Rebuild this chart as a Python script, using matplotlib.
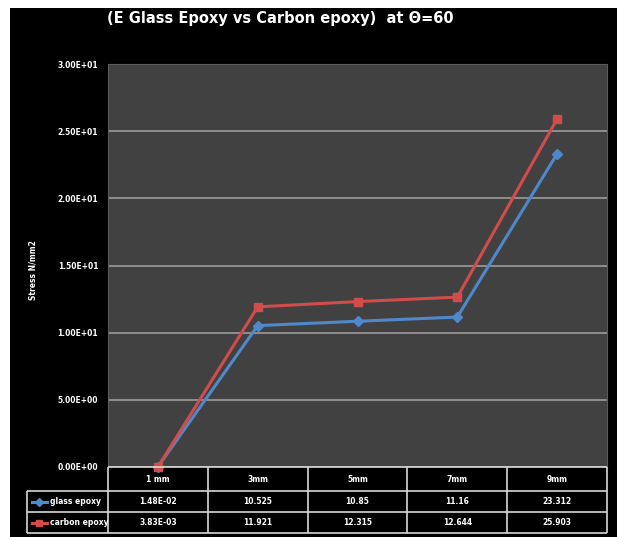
import matplotlib
matplotlib.use("Agg")
import matplotlib.pyplot as plt
from matplotlib.patches import Rectangle
from matplotlib import font_manager

# data
categories = ["1 mm", "3mm", "5mm", "7mm", "9mm"]
glass_epoxy = [1.48e-02, 10.525, 10.85, 11.16, 23.312]
carbon_epoxy = [3.83e-03, 11.921, 12.315, 12.644, 25.903]
glass_labels = ["1.48E-02", "10.525", "10.85", "11.16", "23.312"]
carbon_labels = ["3.83E-03", "11.921", "12.315", "12.644", "25.903"]
series_names = ["glass epoxy", "carbon epoxy"]
yticks = [0, 5, 10, 15, 20, 25, 30]
ytick_labels = ["0.00E+00", "5.00E+00", "1.00E+01", "1.50E+01", "2.00E+01", "2.50E+01", "3.00E+01"]

installed = {f.name for f in font_manager.fontManager.ttflist}
fams = [f for f in ['Liberation Sans Narrow', 'DejaVu Sans Condensed', 'DejaVu Sans'] if f in installed]
plt.rcParams['font.family'] = fams

W, H = 617, 537
fig = plt.figure(figsize=(W / 100, H / 100), dpi=100, facecolor="white")

# black chart background with white margin at top/left
fig.patches.append(Rectangle((10 / W, 0), 1, (H - 8) / H, transform=fig.transFigure,
                             facecolor="black", edgecolor="none", zorder=-5))

blue = "#5088cc"
red = "#d24c4c"

# main plot area
ax = fig.add_axes([108 / W, (H - 467) / H, (607 - 108) / W, (467 - 64) / H])
ax.set_facecolor("#414141")
x = list(range(len(categories)))
ax.plot(x, glass_epoxy, color=blue, lw=2.2, marker="D", ms=5, mec=blue, mfc=blue, clip_on=False)
ax.plot(x, carbon_epoxy, color=red, lw=2.2, marker="s", ms=6, mec=red, mfc=red, clip_on=False)
ax.set_xlim(-0.5, len(categories) - 0.5)
ax.set_ylim(0, 30)
ax.set_yticks(yticks)
ax.set_yticklabels(ytick_labels, color="white", fontsize=5.5, fontweight="bold")
ax.tick_params(axis="y", length=0, pad=7)
ax.set_xticks([])
ax.grid(axis="y", color="#9c9c9c", lw=1.2)
ax.set_axisbelow(True)
for s in ax.spines.values():
    s.set_color("#5a5a5a")
ax.spines["bottom"].set_visible(False)

fig.text(33 / W, 1 - 270 / H, "Stress N/mm2", color="white", fontsize=5.5,
         fontweight="bold", rotation=90, ha="center", va="center")

fig.text(280 / W, 1 - 18 / H, "(E Glass Epoxy vs Carbon epoxy)  at \u0398=60",
         color="white", fontsize=10.5, fontweight="bold", ha="center", va="center")

# data table under the plot, columns aligned with the categories
left_px, right_px = 27, 607
unit = (607 - 108) / len(categories)
x0 = -0.5 - (108 - left_px) / unit
tax = fig.add_axes([left_px / W, (H - 533) / H, (right_px - left_px) / W, (533 - 467) / H])
tax.set_xlim(x0, len(categories) - 0.5)
tax.set_ylim(66, 0)
tax.axis("off")
rows = [0, 24, 45, 66]
lc = "#d8d8d8"
for r in rows:
    tax.hlines(r, -0.5 if r == rows[0] else x0, len(categories) - 0.5, color=lc, lw=1.2, clip_on=False)
tax.vlines(x0, rows[1], rows[3], color=lc, lw=1.2, clip_on=False)
for i in range(len(categories) + 1):
    tax.vlines(i - 0.5, rows[0], rows[3], color=lc, lw=1.2, clip_on=False)

for i, c in enumerate(categories):
    tax.text(i, (rows[0] + rows[1]) / 2, c, color="white", fontsize=5.5,
             fontweight="bold", ha="center", va="center")
for i in range(len(categories)):
    tax.text(i, (rows[1] + rows[2]) / 2, glass_labels[i], color="white", fontsize=5.5,
             fontweight="bold", ha="center", va="center")
    tax.text(i, (rows[2] + rows[3]) / 2, carbon_labels[i], color="white", fontsize=5.5,
             fontweight="bold", ha="center", va="center")

# legend keys in the row labels
key_x = [x0 + 0.05, x0 + 0.2]
for (name, col, mk, ms), r0, r1 in zip(
        [(series_names[0], blue, "D", 4), (series_names[1], red, "s", 5)],
        rows[1:3], rows[2:4]):
    ym = (r0 + r1) / 2
    tax.plot(key_x, [ym, ym], color=col, lw=2.2)
    tax.plot([sum(key_x) / 2], [ym], color=col, marker=mk, ms=ms)
    tax.text(key_x[1] + 0.03, ym, name, color="white", fontsize=5.5,
             fontweight="bold", ha="left", va="center")

fig.savefig("out.png", dpi=100, facecolor=fig.get_facecolor())
